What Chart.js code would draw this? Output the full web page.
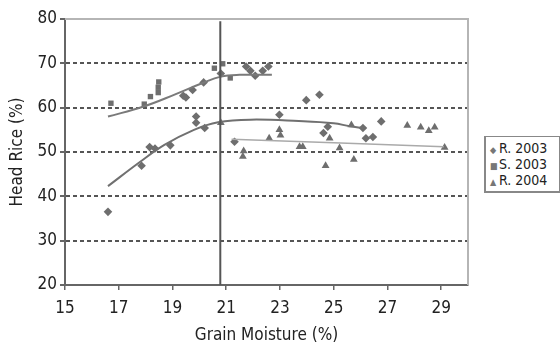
<!DOCTYPE html>
<html>
<head>
<meta charset="utf-8">
<script src="https://cdn.jsdelivr.net/npm/chart.js@4.4.0/dist/chart.umd.min.js"></script>
<style>
  body { margin: 0; background: #fff; }
  #wrap { position: relative; width: 560px; height: 349px; }
  #legend {
    position: absolute; left: 484px; top: 136px; width: 76px;
    border: 1px solid #888; border-left-width: 2px; border-bottom-width: 2px;
    padding: 3px 0 3px 4px; box-sizing: border-box;
    font-family: "Liberation Sans Narrow", "DejaVu Sans Condensed", sans-serif;
    font-size: 14px; color: #222; background: #fff;
  }
  #legend div { height: 16px; line-height: 16px; white-space: nowrap; }
  #legend span { color: #777; font-size: 9px; display: inline-block; width: 9px; }
</style>
</head>
<body>
<div id="wrap">
  <canvas id="chart" width="560" height="349"></canvas>
  <div id="legend">
    <div><span>&#9670;</span>R. 2003</div>
    <div><span>&#9632;</span>S. 2003</div>
    <div><span>&#9650;</span>R. 2004</div>
  </div>
</div>
<script>
// 데이터
const xTicks = [15, 17, 19, 21, 23, 25, 27, 29];

const r2003X = [16.6, 17.85, 18.15, 18.35, 18.92, 19.4, 19.5, 19.75, 19.88, 19.88, 20.2, 20.16, 20.8, 21.31,
                21.74, 21.9, 22.08, 22.36, 22.57, 22.98, 23.98, 24.47, 24.62, 24.78, 26.09, 26.2, 26.46, 26.77];
const r2003Y = [36.5, 46.9, 51.1, 50.8, 51.5, 62.7, 62.3, 64.0, 58.0, 56.6, 55.4, 65.7, 67.7, 52.3,
                69.3, 68.3, 67.2, 68.3, 69.3, 58.4, 61.7, 62.9, 54.3, 55.7, 55.4, 53.1, 53.4, 56.9];

const s2003X = [16.71, 17.95, 18.18, 18.47, 18.47, 18.49, 20.56, 20.87, 21.15];
const s2003Y = [61.0, 60.8, 62.5, 63.4, 64.6, 65.8, 68.9, 69.9, 66.7];

const r2004X = [20.8, 21.62, 21.65, 22.6, 22.98, 23.02, 23.73, 23.85, 24.7, 24.85, 25.22, 25.66, 25.75,
                27.74, 28.24, 28.54, 28.76, 29.13];
const r2004Y = [56.6, 49.0, 50.2, 53.1, 55.0, 53.8, 51.2, 51.2, 46.9, 53.1, 50.9, 56.1, 48.3,
                56.0, 55.6, 54.8, 55.6, 51.0];

// 추세선
const s2003TrendX = [16.6, 17.9, 19.1, 20.1, 20.8, 21.5, 22.7];
const s2003TrendY = [58.0, 60.2, 63.0, 65.5, 67.0, 67.4, 67.4];
const r2003TrendX = [16.6, 17.8, 18.7, 19.8, 20.7, 21.9, 23.7, 25.0, 25.6, 26.1];
const r2003TrendY = [42.3, 47.8, 51.6, 55.0, 56.7, 57.3, 57.0, 56.5, 55.8, 55.4];
const r2004TrendX = [21.2, 25.0, 29.1];
const r2004TrendY = [52.9, 52.1, 51.2];

// 세로 기준선
const vLineX = [20.78, 20.78];
const vLineY = [20, 79.5];

const toPts = (xs, ys) => xs.map((x, i) => ({x: x, y: ys[i]}));

const FONT = '"Liberation Sans Narrow", "DejaVu Sans Condensed", sans-serif';
const MARK = '#6e6e6e';

// 위쪽/오른쪽 테두리
const framePlugin = {
    id: 'frame',
    afterDraw(chart) {
        const {ctx, chartArea: a} = chart;
        ctx.save();
        ctx.strokeStyle = '#b5b5b5';
        ctx.lineWidth = 2;
        ctx.beginPath();
        ctx.moveTo(a.left, a.top);
        ctx.lineTo(a.right, a.top);
        ctx.lineTo(a.right, a.bottom);
        ctx.stroke();
        ctx.restore();
    }
};

new Chart(document.getElementById('chart'), {
    type: 'scatter',
    data: {
        datasets: [
            {
                label: 'vline', type: 'line', data: toPts(vLineX, vLineY),
                borderColor: '#555', borderWidth: 2, pointRadius: 0
            },
            {
                label: 'S. 2003 trend', type: 'line', data: toPts(s2003TrendX, s2003TrendY),
                borderColor: '#7a7a7a', borderWidth: 2, pointRadius: 0, tension: 0.4
            },
            {
                label: 'R. 2003 trend', type: 'line', data: toPts(r2003TrendX, r2003TrendY),
                borderColor: '#707070', borderWidth: 2, pointRadius: 0, tension: 0.4
            },
            {
                label: 'R. 2004 trend', type: 'line', data: toPts(r2004TrendX, r2004TrendY),
                borderColor: '#aaaaaa', borderWidth: 1.5, pointRadius: 0, tension: 0.3
            },
            {
                label: 'R. 2003', data: toPts(r2003X, r2003Y),
                pointStyle: 'rectRot', pointRadius: 4.3, backgroundColor: MARK, borderColor: MARK, borderWidth: 0
            },
            {
                label: 'S. 2003', data: toPts(s2003X, s2003Y),
                pointStyle: 'rect', pointRadius: 3.8, backgroundColor: MARK, borderColor: MARK, borderWidth: 0
            },
            {
                label: 'R. 2004', data: toPts(r2004X, r2004Y),
                pointStyle: 'triangle', pointRadius: 4.5, backgroundColor: MARK, borderColor: MARK, borderWidth: 0
            }
        ]
    },
    options: {
        responsive: false,
        animation: false,
        layout: {padding: {top: 19, right: 92, left: 0, bottom: 0}},
        plugins: {
            legend: {display: false},
            tooltip: {enabled: false}
        },
        scales: {
            x: {
                type: 'linear', min: 15, max: 30,
                afterBuildTicks: s => { s.ticks = xTicks.map(v => ({value: v})); },
                afterFit: s => { s.height = 64; },
                grid: {drawOnChartArea: false, tickLength: 5, color: '#666', lineWidth: 1.5},
                border: {color: '#666', width: 2},
                ticks: {color: '#222', font: {family: FONT, size: 17}, padding: 8, maxRotation: 0},
                title: {
                    display: true, text: 'Grain Moisture (%)', color: '#222',
                    font: {family: FONT, size: 17}, padding: {top: 2, bottom: 3}
                }
            },
            y: {
                min: 20, max: 80,
                ticks: {stepSize: 10, color: '#222', font: {family: FONT, size: 17}, padding: 3},
                afterFit: s => { s.width = 65; },
                grid: {
                    color: c => (c.tick && (c.tick.value === 20 || c.tick.value === 80)) ? 'rgba(0,0,0,0)' : '#555',
                    tickColor: '#666', lineWidth: 2, tickLength: 5
                },
                border: {color: '#666', width: 2, dash: [4, 3]},
                title: {
                    display: true, text: 'Head Rice (%)', color: '#222',
                    font: {family: FONT, size: 17}, padding: {top: 7, bottom: 0}
                }
            }
        }
    },
    plugins: [framePlugin]
});
</script>
</body>
</html>
